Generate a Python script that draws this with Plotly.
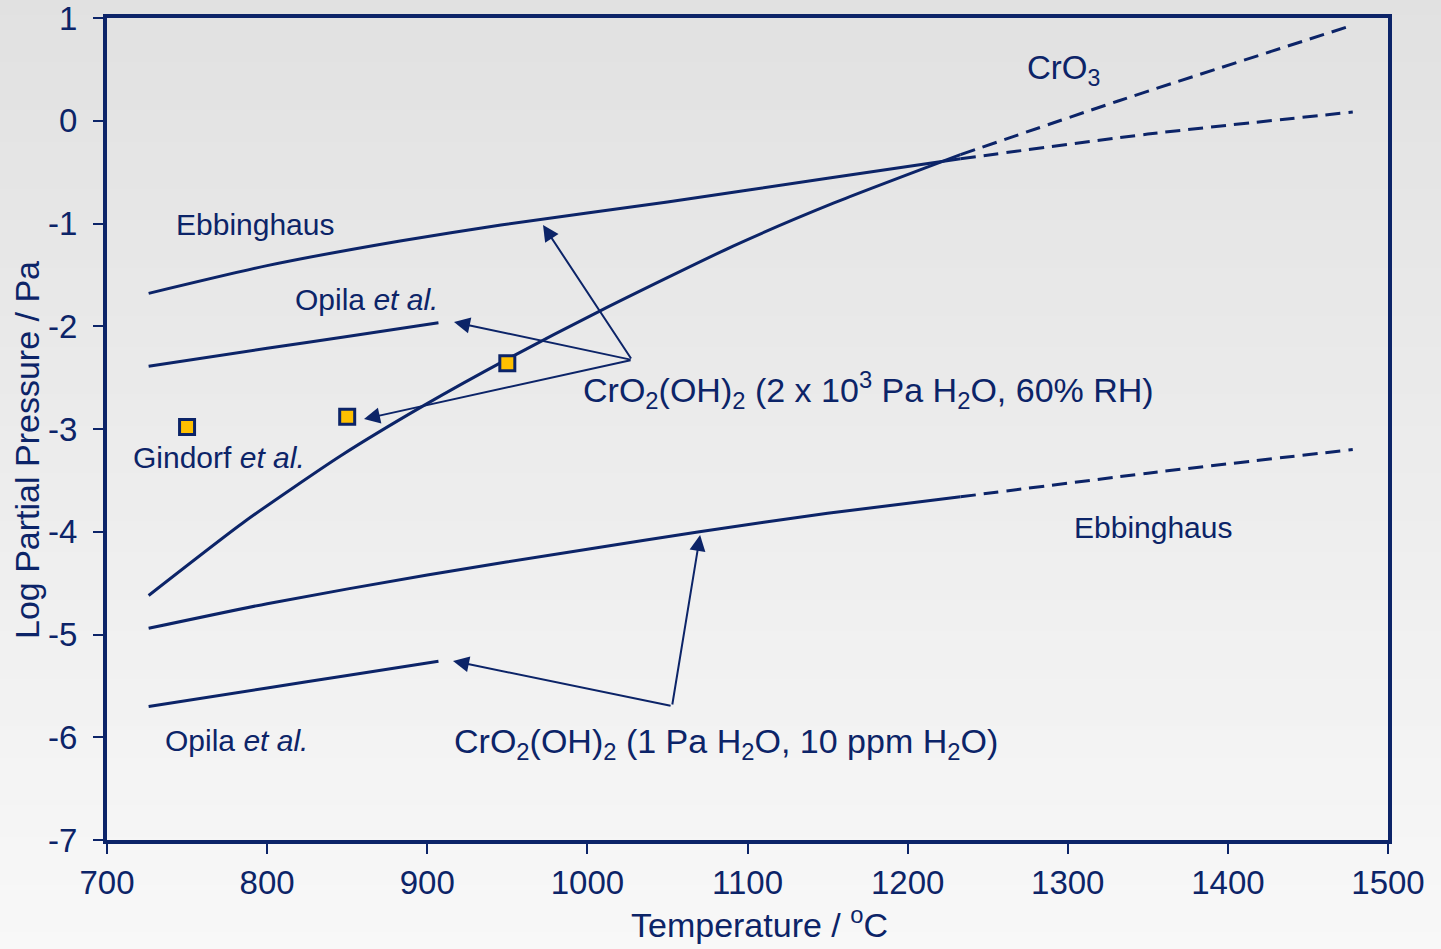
import plotly.graph_objects as go

NAVY = "#0c2468"
FONT = "Liberation Sans, Arial, sans-serif"

# ---- data (temperature / °C, log partial pressure / Pa) ----
ebb_high_T = [726, 800, 883, 946, 1050, 1150, 1233]
ebb_high_v = [-1.68, -1.41, -1.17, -1.015, -0.79, -0.56, -0.37]
ebb_high_dash_T = [1233, 1350, 1478]
ebb_high_dash_v = [-0.37, -0.13, 0.085]

cro3_T = [726, 786, 846, 898, 950, 1008, 1091, 1154, 1233]
cro3_v = [-4.62, -3.90, -3.26, -2.77, -2.32, -1.85, -1.22, -0.80, -0.33]
cro3_dash_T = [1233, 1331, 1478]
cro3_dash_v = [-0.33, 0.19, 0.93]

opila_high_T = [726, 800, 850, 907]
opila_high_v = [-2.39, -2.215, -2.10, -1.966]

ebb_low_T = [726, 800, 900, 1000, 1070, 1150, 1233]
ebb_low_v = [-4.94, -4.70, -4.42, -4.17, -4.00, -3.82, -3.66]
ebb_low_dash_T = [1233, 1350, 1478]
ebb_low_dash_v = [-3.66, -3.43, -3.20]

opila_low_T = [726, 800, 850, 907]
opila_low_v = [-5.70, -5.52, -5.40, -5.26]

gindorf_T = [750, 850, 950]
gindorf_v = [-2.98, -2.88, -2.36]

x_ticks = [700, 800, 900, 1000, 1100, 1200, 1300, 1400, 1500]
x_ticktext = ["700", "800", "900", "1000", "1100", "1200", "1300", "1400", "1500"]
y_ticks = [1, 0, -1, -2, -3, -4, -5, -6, -7]
y_ticktext = ["1", "0", "-1", "-2", "-3", "-4", "-5", "-6", "-7"]

x_title = "Temperature / <sup>o</sup>C"
y_title = "Log Partial Pressure / Pa"

# arrows: (tip T, tip v, origin T, origin v)
arrows = [
    (972.3, -1.015, 1027.9, -2.328),
    (916.7, -1.959, 1027.9, -2.328),
    (860.5, -2.903, 1027.9, -2.328),
    (1070.4, -4.032, 1052.9, -5.696),
    (916.1, -5.258, 1052.9, -5.696),
]

# labels: (T, v, text, xanchor, size)
labels = [
    (792.4, -1.005, "Ebbinghaus", "center", 30),
    (862.0, -1.735, "Opila <i>et al.</i>", "center", 30),
    (770.0, -3.28, "Gindorf <i>et al.</i>", "center", 30),
    (996.0, -2.62, "CrO<sub>2</sub>(OH)<sub>2</sub> (2 x 10<sup>3</sup> Pa H<sub>2</sub>O, 60% RH)", "left", 34),
    (1273.5, 0.49, "CrO<sub>3</sub>", "left", 33),
    (1353.3, -3.954, "Ebbinghaus", "center", 30),
    (781.0, -6.027, "Opila <i>et al.</i>", "center", 30),
    (915.5, -6.06, "CrO<sub>2</sub>(OH)<sub>2</sub> (1 Pa H<sub>2</sub>O, 10 ppm H<sub>2</sub>O)", "left", 34),
]

fig = go.Figure()

solid = dict(color=NAVY, width=3, shape="spline", smoothing=0.6)
dashed = dict(color=NAVY, width=3, dash="15px,8px", shape="spline", smoothing=0.6)

for T, v in [(ebb_high_T, ebb_high_v), (cro3_T, cro3_v), (opila_high_T, opila_high_v),
             (ebb_low_T, ebb_low_v), (opila_low_T, opila_low_v)]:
    fig.add_trace(go.Scatter(x=T, y=v, mode="lines", line=solid,
                             showlegend=False, hoverinfo="skip"))
for T, v in [(ebb_high_dash_T, ebb_high_dash_v), (cro3_dash_T, cro3_dash_v),
             (ebb_low_dash_T, ebb_low_dash_v)]:
    fig.add_trace(go.Scatter(x=T, y=v, mode="lines", line=dashed,
                             showlegend=False, hoverinfo="skip"))

fig.add_trace(go.Scatter(x=gindorf_T, y=gindorf_v, mode="markers",
                         marker=dict(symbol="square", size=15, color="#FFC000",
                                     line=dict(color=NAVY, width=3)),
                         showlegend=False, hoverinfo="skip"))

for tx, ty, ox, oy in arrows:
    fig.add_annotation(x=tx, y=ty, ax=ox, ay=oy, xref="x", yref="y", axref="x", ayref="y",
                       text="", showarrow=True, arrowhead=2, arrowsize=1.6, arrowwidth=2,
                       arrowcolor=NAVY, standoff=0)

for T, v, txt, anchor, size in labels:
    fig.add_annotation(x=T, y=v, xref="x", yref="y", text=txt, showarrow=False,
                       xanchor=anchor, yanchor="middle",
                       font=dict(family=FONT, size=size, color=NAVY))

W, H = 1441, 949
L, R, TOP, BOT = 107, 1388, 18, 840
pw, ph = R - L, BOT - TOP

# axis titles placed as annotations (paper coordinates)
fig.add_annotation(x=(759 - L) / pw, y=(BOT - 946) / ph, xref="paper", yref="paper",
                   text=x_title, showarrow=False, xanchor="center", yanchor="bottom",
                   font=dict(family=FONT, size=34, color=NAVY))
fig.add_annotation(x=(27 - L) / pw, y=(BOT - 450) / ph, xref="paper", yref="paper",
                   text=y_title, showarrow=False, xanchor="center", yanchor="middle",
                   textangle=-90, font=dict(family=FONT, size=34, color=NAVY))

# background gradient bands (paper coordinates covering whole page)
n = 60
top_c, bot_c = 225, 248
shapes = []
for i in range(n):
    py0 = H * i / n - 1
    py1 = H * (i + 1) / n + 1
    c = round(top_c + (bot_c - top_c) * (i + 0.5) / n)
    shapes.append(dict(type="rect", xref="paper", yref="paper",
                       x0=(-2 - L) / pw, x1=(W + 2 - L) / pw,
                       y0=(BOT - py1) / ph, y1=(BOT - py0) / ph,
                       fillcolor=f"rgb({c},{c},{c})", line=dict(width=0), layer="below"))
fig.update_layout(shapes=shapes)

fig.update_layout(
    width=W, height=H,
    margin=dict(l=L, r=W - R, t=TOP, b=H - BOT, autoexpand=False),
    paper_bgcolor="rgb(236,236,236)",
    plot_bgcolor="rgba(0,0,0,0)",
    font=dict(family=FONT, color=NAVY),
    showlegend=False,
)
fig.update_xaxes(range=[700, 1500], tickvals=x_ticks, ticktext=x_ticktext,
                 showline=True, linewidth=4, linecolor=NAVY, mirror=True,
                 ticks="outside", ticklen=10, tickwidth=2, tickcolor=NAVY,
                 showgrid=False, zeroline=False, automargin=False,
                 ticklabelstandoff=0, ticklabeloverflow="allow",
                 tickfont=dict(family=FONT, size=33, color=NAVY))
fig.update_yaxes(range=[-7, 1], tickvals=y_ticks, ticktext=y_ticktext,
                 showline=True, linewidth=4, linecolor=NAVY, mirror=True,
                 ticks="outside", ticklen=10, tickwidth=2, tickcolor=NAVY,
                 showgrid=False, zeroline=False, automargin=False,
                 ticklabelstandoff=9, ticklabeloverflow="allow",
                 tickfont=dict(family=FONT, size=33, color=NAVY))

fig.write_html("out.html")
